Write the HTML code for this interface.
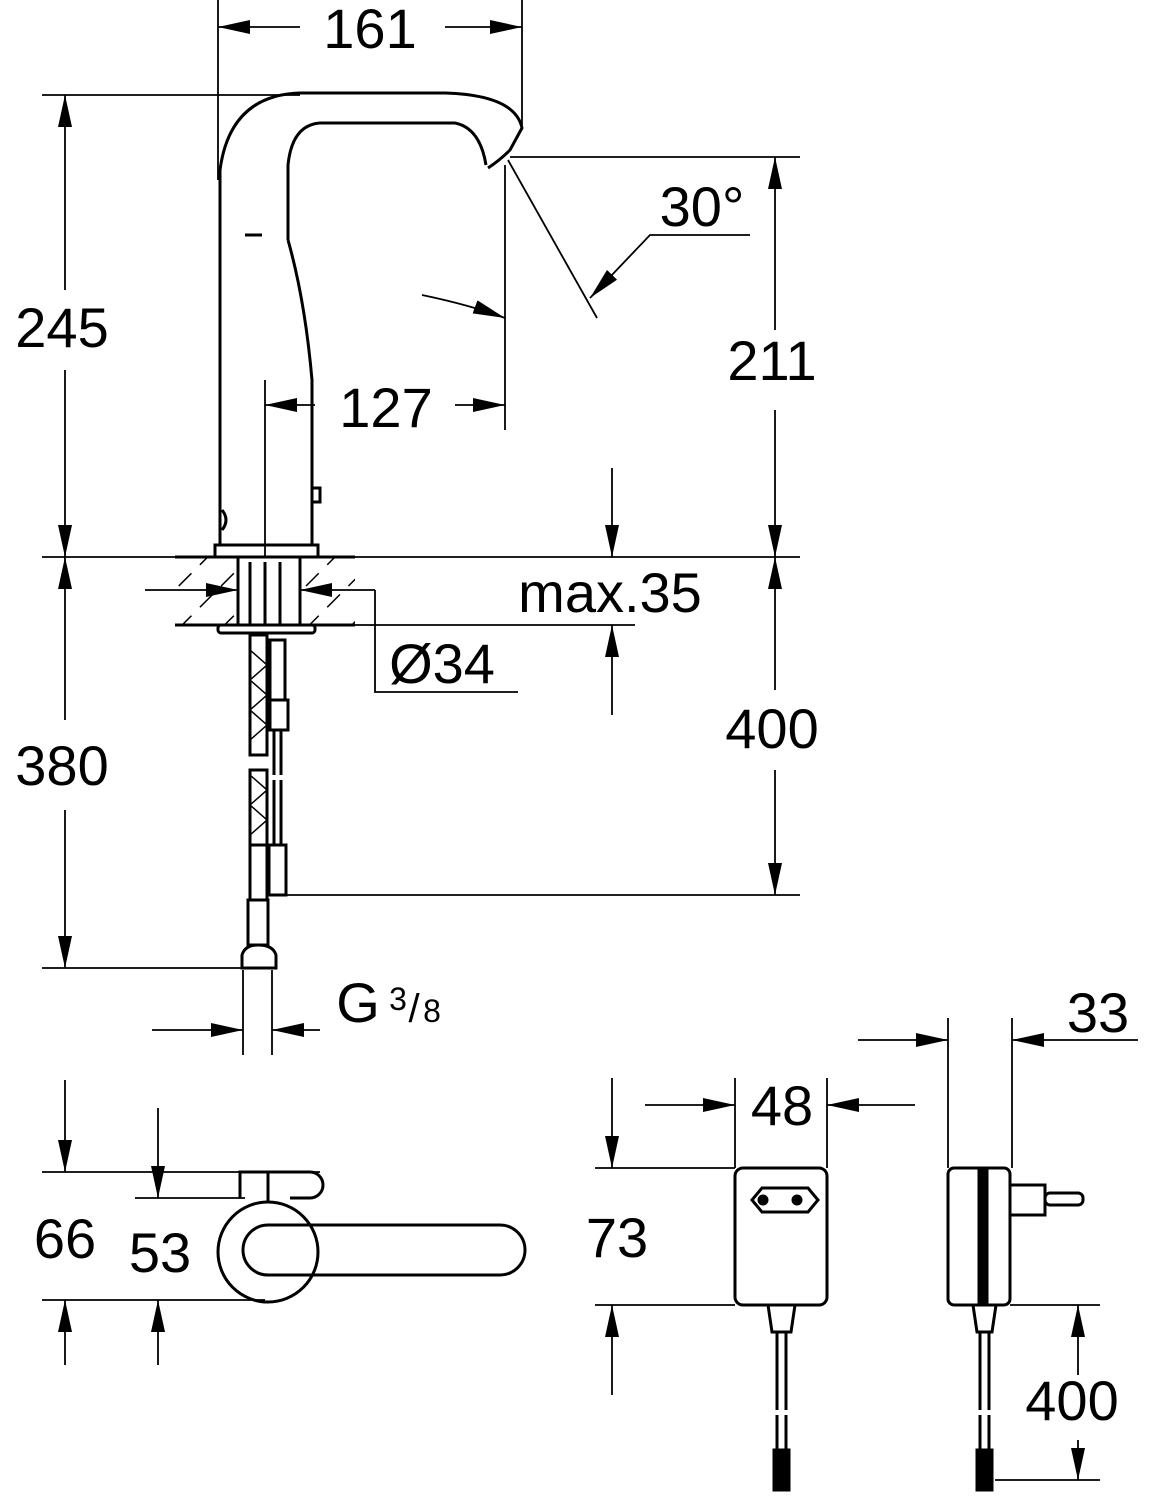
<!DOCTYPE html>
<html><head><meta charset="utf-8"><style>
html,body{margin:0;padding:0;background:#fff}
svg{display:block}
text{font-family:"Liberation Sans",sans-serif;font-size:56px;fill:#000;text-anchor:middle}
</style></head><body>
<svg width="1149" height="1500" viewBox="0 0 1149 1500" xmlns="http://www.w3.org/2000/svg">
<defs>
<marker id="a" markerUnits="userSpaceOnUse" markerWidth="32" markerHeight="14" refX="32" refY="7" orient="auto">
<path d="M0,0 L32,7 L0,14 Z" fill="#000"/></marker>
<pattern id="h" width="30" height="30" patternUnits="userSpaceOnUse" patternTransform="rotate(45)">
<line x1="0" y1="0" x2="0" y2="30" stroke="#000" stroke-width="3" stroke-dasharray="18 12"/></pattern>
</defs>
<g stroke="#000" stroke-width="1.8" fill="none">
<line x1="218" y1="0" x2="218" y2="180"/>
<line x1="522" y1="0" x2="522" y2="130"/>
<line x1="42" y1="95" x2="300" y2="95"/>
<line x1="42" y1="557" x2="800" y2="557"/>
<line x1="42" y1="968" x2="250" y2="968"/>
<line x1="510" y1="157" x2="800" y2="157"/>
<line x1="285" y1="895" x2="800" y2="895"/>
<line x1="265" y1="380" x2="265" y2="620"/>
<line x1="505" y1="165" x2="505" y2="430"/>
<line x1="175" y1="625" x2="635" y2="625"/>
<line x1="345" y1="590" x2="375" y2="590"/>
<polyline points="375,590 375,692 518,692"/>
<line x1="243" y1="970" x2="243" y2="1055"/>
<line x1="272" y1="970" x2="272" y2="1055"/>
<line x1="300" y1="27" x2="218" y2="27" marker-end="url(#a)"/>
<line x1="445" y1="27" x2="522" y2="27" marker-end="url(#a)"/>
<line x1="65" y1="290" x2="65" y2="95" marker-end="url(#a)"/>
<line x1="65" y1="370" x2="65" y2="557" marker-end="url(#a)"/>
<line x1="65" y1="720" x2="65" y2="557" marker-end="url(#a)"/>
<line x1="65" y1="810" x2="65" y2="968" marker-end="url(#a)"/>
<line x1="775" y1="330" x2="775" y2="157" marker-end="url(#a)"/>
<line x1="775" y1="410" x2="775" y2="557" marker-end="url(#a)"/>
<line x1="775" y1="690" x2="775" y2="557" marker-end="url(#a)"/>
<line x1="775" y1="770" x2="775" y2="895" marker-end="url(#a)"/>
<line x1="315" y1="405" x2="265" y2="405" marker-end="url(#a)"/>
<line x1="455" y1="405" x2="505" y2="405" marker-end="url(#a)"/>
<line x1="612" y1="468" x2="612" y2="557" marker-end="url(#a)"/>
<line x1="612" y1="715" x2="612" y2="625" marker-end="url(#a)"/>
<line x1="145" y1="590" x2="238" y2="590" marker-end="url(#a)"/>
<line x1="345" y1="590" x2="300" y2="590" marker-end="url(#a)"/>
<line x1="152" y1="1030" x2="243" y2="1030" marker-end="url(#a)"/>
<line x1="320" y1="1030" x2="272" y2="1030" marker-end="url(#a)"/>
<line x1="508" y1="160" x2="597" y2="318"/>
<path d="M422,295 Q470,305 505,318" marker-end="url(#a)"/>
<polyline points="750,235 650,235 590,298" marker-end="url(#a)"/>
<g stroke-width="3">
<path d="M220,545 L220,170 Q230,95 300,93 L445,93 Q515,95 522,128 L510,150 Q500,160 488,168"/>
<path d="M288,240 L288,165 Q292,125 320,123 L455,123 Q480,128 486,165"/>
<path d="M288,240 Q305,300 312,380 L312,545"/>
<rect x="215" y="545" width="103" height="12"/>
<line x1="245" y1="235" x2="262" y2="235"/>
<rect x="312" y="488" width="8" height="14"/>
<path d="M222,510 Q230,520 222,530"/>
<rect x="175" y="557" width="180" height="68" fill="url(#h)" stroke="none"/>
<rect x="238" y="557" width="62" height="68" fill="#fff"/>
<line x1="175" y1="557" x2="355" y2="557"/>
<line x1="175" y1="625" x2="355" y2="625"/>
<line x1="250" y1="562" x2="250" y2="625"/>
<line x1="265" y1="562" x2="265" y2="625"/>
<line x1="280" y1="562" x2="280" y2="625"/>
<rect x="218" y="625" width="97" height="8" rx="3"/>
<rect x="250" y="635" width="17" height="120"/>
<path d="M250,650 L267,665 L250,680 L267,695 L250,710 L267,725 L250,740" stroke-width="1.5"/>
<rect x="250" y="770" width="17" height="75"/>
<path d="M250,775 L267,790 L250,805 L267,820 L250,835" stroke-width="1.5"/>
<rect x="250" y="845" width="17" height="55"/>
<rect x="248" y="900" width="20" height="45"/>
<path d="M242,968 L242,955 Q245,945 258,945 Q273,945 276,955 L276,968 Z"/>
<rect x="270" y="640" width="15" height="60"/>
<rect x="270" y="700" width="18" height="30"/>
<line x1="274" y1="730" x2="274" y2="775"/><line x1="281" y1="730" x2="281" y2="775"/>
<line x1="274" y1="780" x2="274" y2="845"/><line x1="281" y1="780" x2="281" y2="845"/>
<rect x="269" y="845" width="17" height="50"/>
<circle cx="268" cy="1252" r="50"/>
<path d="M268,1225 L500,1225 A25,25 0 0 1 500,1275 L268,1275 A25,25 0 0 1 268,1225 Z"/>
<path d="M240,1198 L240,1172 L310,1172 A13,13 0 0 1 310,1198 L290,1198"/>
<line x1="268" y1="1172" x2="268" y2="1202"/>
<rect x="735" y="1168" width="92" height="137" rx="8"/>
<path d="M752,1200 L762,1188 L808,1188 L818,1200 L808,1212 L762,1212 Z"/>
<circle cx="763" cy="1200" r="4" fill="#000"/><circle cx="797" cy="1200" r="4" fill="#000"/>
<path d="M768,1305 L772,1332 L791,1332 L795,1305"/>
<line x1="777" y1="1332" x2="777" y2="1410"/><line x1="786" y1="1332" x2="786" y2="1410"/>
<line x1="777" y1="1415" x2="777" y2="1450"/><line x1="786" y1="1415" x2="786" y2="1450"/>
<rect x="774" y="1450" width="15" height="40" fill="#000"/>
<rect x="948" y="1168" width="62" height="137" rx="6"/>
<rect x="979" y="1168" width="8" height="137" fill="#000"/>
<rect x="1010" y="1185" width="35" height="30"/>
<rect x="1045" y="1193" width="38" height="12" rx="5"/>
<path d="M973,1305 L977,1332 L992,1332 L996,1305"/>
<line x1="980" y1="1332" x2="980" y2="1410"/><line x1="989" y1="1332" x2="989" y2="1410"/>
<line x1="980" y1="1415" x2="980" y2="1450"/><line x1="989" y1="1415" x2="989" y2="1450"/>
<rect x="977" y="1450" width="15" height="40" fill="#000"/>
</g>
<line x1="42" y1="1172" x2="320" y2="1172"/>
<line x1="42" y1="1300" x2="265" y2="1300"/>
<line x1="135" y1="1198" x2="245" y2="1198"/>
<line x1="65" y1="1080" x2="65" y2="1172" marker-end="url(#a)"/>
<line x1="65" y1="1365" x2="65" y2="1300" marker-end="url(#a)"/>
<line x1="158" y1="1108" x2="158" y2="1198" marker-end="url(#a)"/>
<line x1="158" y1="1365" x2="158" y2="1300" marker-end="url(#a)"/>
<line x1="735" y1="1078" x2="735" y2="1168"/>
<line x1="827" y1="1078" x2="827" y2="1168"/>
<line x1="645" y1="1105" x2="735" y2="1105" marker-end="url(#a)"/>
<line x1="915" y1="1105" x2="827" y2="1105" marker-end="url(#a)"/>
<line x1="595" y1="1168" x2="735" y2="1168"/>
<line x1="595" y1="1305" x2="735" y2="1305"/>
<line x1="612" y1="1078" x2="612" y2="1168" marker-end="url(#a)"/>
<line x1="612" y1="1395" x2="612" y2="1305" marker-end="url(#a)"/>
<line x1="948" y1="1018" x2="948" y2="1168"/>
<line x1="1012" y1="1018" x2="1012" y2="1168"/>
<line x1="858" y1="1040" x2="948" y2="1040" marker-end="url(#a)"/>
<line x1="1138" y1="1040" x2="1012" y2="1040" marker-end="url(#a)"/>
<line x1="1010" y1="1305" x2="1100" y2="1305"/>
<line x1="995" y1="1480" x2="1100" y2="1480"/>
<line x1="1078" y1="1375" x2="1078" y2="1305" marker-end="url(#a)"/>
<line x1="1078" y1="1440" x2="1078" y2="1480" marker-end="url(#a)"/>
</g>
<text x="370" y="48">161</text>
<text x="62" y="347">245</text>
<text x="62" y="785">380</text>
<text x="386" y="427">127</text>
<text x="702" y="226">30°</text>
<text x="772" y="380">211</text>
<text x="772" y="748">400</text>
<text x="610" y="612">max.35</text>
<text x="442" y="683">Ø34</text>
<text x="358" y="1022">G</text>
<text x="398" y="1010" style="font-size:32px">3</text>
<text x="414" y="1022" style="font-size:40px">/</text>
<text x="432" y="1022" style="font-size:32px">8</text>
<text x="65" y="1258">66</text>
<text x="160" y="1272">53</text>
<text x="782" y="1125">48</text>
<text x="617" y="1257">73</text>
<text x="1098" y="1032">33</text>
<text x="1072" y="1420">400</text>
</svg>
</body></html>
